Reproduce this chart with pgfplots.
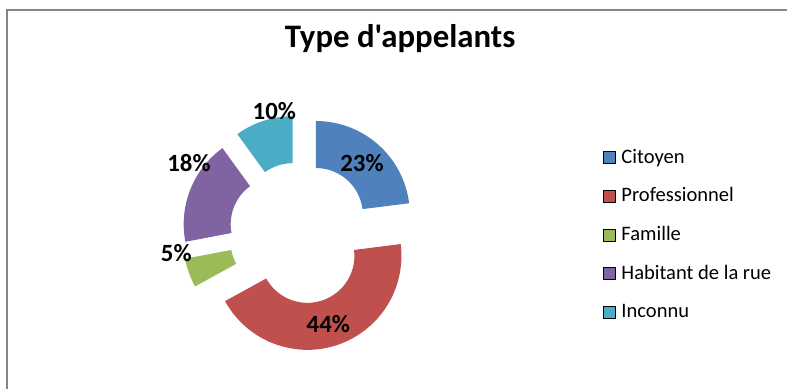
\documentclass[border=0pt]{standalone}
\usepackage{pgfplots}
\pgfplotsset{compat=1.18}
\usepackage{fontspec}
\setmainfont{Carlito}[Ligatures=TeXOff]
\definecolor{cCit}{HTML}{4F81BD}
\definecolor{cPro}{HTML}{C0504D}
\definecolor{cFam}{HTML}{9BBB59}
\definecolor{cHab}{HTML}{8064A2}
\definecolor{cInc}{HTML}{4BACC6}
\definecolor{frame}{HTML}{868686}
% one donut slice: #1 share before it (%), #2 its share (%), #3 colour
\newcommand\donutslice[3]{%
  \pgfmathsetmacro\sa{90-3.6*#1}%
  \pgfmathsetmacro\ea{90-3.6*(#1+#2)}%
  \pgfmathsetmacro\ma{(\sa+\ea)/2}%
  \edef\tmp{\noexpand\fill[#3, shift={(axis cs:300,233)}, shift={(\ma:18pt)}]
    (\sa:35.25pt) arc[start angle=\sa, end angle=\ea, radius=35.25pt]
    -- (\ea:70.5pt) arc[start angle=\ea, end angle=\sa, radius=70.5pt] -- cycle;}%
  \tmp}
\begin{document}
\begin{tikzpicture}
\begin{axis}[
  name=ax,
  scale only axis, width=590.25pt, height=291.75pt,
  xmin=0, xmax=787, ymin=0, ymax=389, y dir=reverse,
  hide axis, clip=false,
  title={Type d'appelants},
  title style={at={(0.5083,0.8586)}, anchor=base, inner sep=0pt,
    font=\fontsize{24.6}{28}\selectfont\bfseries},
  legend style={at={(0.7662,0.6247)}, anchor=north west, draw=none, fill=none,
    inner sep=0pt, row sep=13pt, font=\fontsize{15.4}{18}\selectfont,
    /tikz/every odd column/.append style={column sep=2.25pt}},
  legend cell align=left,
  legend image code/.code={\fill[#1] (0pt,-4.5pt) rectangle (9pt,4.5pt);},
]
\addlegendimage{fill=cCit}\addlegendentry{Citoyen}
\addlegendimage{fill=cPro}\addlegendentry{Professionnel}
\addlegendimage{fill=cFam}\addlegendentry{Famille}
\addlegendimage{fill=cHab}\addlegendentry{Habitant de la rue}
\addlegendimage{fill=cInc}\addlegendentry{Inconnu}
\donutslice{0}{23}{cCit}
\donutslice{23}{44}{cPro}
\donutslice{67}{5}{cFam}
\donutslice{72}{18}{cHab}
\donutslice{90}{10}{cInc}
\begin{scope}[every node/.style={font=\fontsize{18.6}{22}\selectfont\bfseries, anchor=base, inner sep=0pt}]
\node at (axis cs:362,171.7) {23\%};
\node at (axis cs:328.3,332.7) {44\%};
\node at (axis cs:176.3,261.7) {5\%};
\node at (axis cs:189,171.7) {18\%};
\node at (axis cs:274.3,119.3) {10\%};
\end{scope}
\draw[frame, line width=1.5pt] (axis cs:6.8,389) -- (axis cs:6.8,10) -- (axis cs:787,10);
\end{axis}
\pgfresetboundingbox
\useasboundingbox (ax.south west) rectangle (ax.north east);
\end{tikzpicture}
\end{document}
